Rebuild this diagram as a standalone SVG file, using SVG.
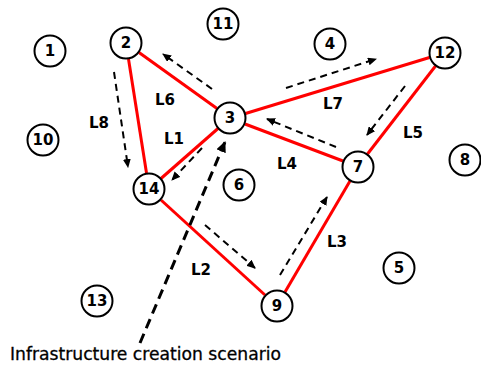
<svg xmlns="http://www.w3.org/2000/svg" width="481" height="372" viewBox="0 0 481 372">
  <defs>
    <marker id="arrow" markerUnits="userSpaceOnUse" markerWidth="9" markerHeight="8" refX="8" refY="4" orient="auto">
      <path d="M0,0 L9,4 L0,8 z" fill="#000"/>
    </marker>
    <marker id="arrowBig" markerUnits="userSpaceOnUse" markerWidth="11" markerHeight="10" refX="10" refY="5" orient="auto">
      <path d="M0,0 L11,5 L0,10 z" fill="#000"/>
    </marker>
  </defs>
  <style>
    .node circle { fill: #fff; stroke: #000; stroke-width: 2; }
    .node text { font-family: "DejaVu Sans", Verdana, sans-serif; font-weight: bold; font-size: 15px; text-anchor: middle; dominant-baseline: central; fill: #000; }
    .link { stroke: #ff0000; stroke-width: 3; fill: none; }
    .flow { stroke: #000; stroke-width: 2; stroke-dasharray: 7 5; fill: none; marker-end: url(#arrow); }
    .scenario { stroke: #000; stroke-width: 3; stroke-dasharray: 10 6; fill: none; marker-end: url(#arrowBig); }
    .lbl { font-family: "DejaVu Sans", Verdana, sans-serif; font-weight: bold; font-size: 15px; text-anchor: middle; dominant-baseline: central; fill: #000; }
    .caption { font-family: "DejaVu Sans", Verdana, sans-serif; font-size: 17px; fill: #000; stroke: #000; stroke-width: 0.3; }
  </style>
  <rect width="481" height="372" fill="#fff"/>

  <g id="connectors">
    <!-- physical links -->
    <line class="link" x1="128.5" y1="59" x2="146.5" y2="173"/>
    <line class="link" x1="139" y1="52.5" x2="217" y2="108.5"/>
    <line class="link" x1="218" y1="128.5" x2="161" y2="178.5"/>
    <line class="link" x1="245.5" y1="113.5" x2="429.5" y2="57.5"/>
    <line class="link" x1="245" y1="124" x2="343" y2="161"/>
    <line class="link" x1="435.5" y1="66" x2="367.5" y2="154"/>
    <line class="link" x1="161" y1="200" x2="265" y2="295"/>
    <line class="link" x1="285" y1="292" x2="350" y2="181"/>
    <!-- flow directions -->
    <line class="flow" x1="212" y1="89" x2="163" y2="54"/>
    <line class="flow" x1="114" y1="72" x2="128" y2="167"/>
    <line class="flow" x1="202" y1="148" x2="172" y2="180"/>
    <line class="flow" x1="286" y1="88" x2="376" y2="59"/>
    <line class="flow" x1="405" y1="86" x2="367" y2="135"/>
    <line class="flow" x1="336" y1="147" x2="267" y2="119"/>
    <line class="flow" x1="205" y1="225" x2="255" y2="268"/>
    <line class="flow" x1="280" y1="275" x2="327" y2="197"/>
    <!-- scenario pointer -->
    <line class="scenario" x1="140" y1="343" x2="225" y2="142"/>
  </g>

  <g id="link-labels">
    <text class="lbl" x="165" y="100">L6</text>
    <text class="lbl" x="99" y="123">L8</text>
    <text class="lbl" x="174" y="139">L1</text>
    <text class="lbl" x="333" y="104">L7</text>
    <text class="lbl" x="413" y="133">L5</text>
    <text class="lbl" x="287" y="164">L4</text>
    <text class="lbl" x="201" y="270">L2</text>
    <text class="lbl" x="337" y="242">L3</text>
  </g>

  <g id="node-1" class="node"><circle cx="50" cy="51" r="15.5"/><text x="50" y="51">1</text></g>
  <g id="node-2" class="node"><circle cx="126" cy="43" r="15.5"/><text x="126" y="43">2</text></g>
  <g id="node-3" class="node"><circle cx="230" cy="118" r="15.5"/><text x="230" y="118">3</text></g>
  <g id="node-4" class="node"><circle cx="330" cy="44" r="15.5"/><text x="330" y="44">4</text></g>
  <g id="node-5" class="node"><circle cx="399" cy="268" r="15.5"/><text x="399" y="268">5</text></g>
  <g id="node-6" class="node"><circle cx="239" cy="185" r="15.5"/><text x="239" y="185">6</text></g>
  <g id="node-7" class="node"><circle cx="358" cy="167" r="15.5"/><text x="358" y="167">7</text></g>
  <g id="node-8" class="node"><circle cx="465" cy="160" r="15.5"/><text x="465" y="160">8</text></g>
  <g id="node-9" class="node"><circle cx="277" cy="306" r="15.5"/><text x="277" y="306">9</text></g>
  <g id="node-10" class="node"><circle cx="43" cy="140" r="15.5"/><text x="43" y="140">10</text></g>
  <g id="node-11" class="node"><circle cx="223" cy="24" r="15.5"/><text x="223" y="24">11</text></g>
  <g id="node-12" class="node"><circle cx="445" cy="53" r="15.5"/><text x="445" y="53">12</text></g>
  <g id="node-13" class="node"><circle cx="97" cy="301" r="15.5"/><text x="97" y="301">13</text></g>
  <g id="node-14" class="node"><circle cx="149" cy="189" r="15.5"/><text x="149" y="189">14</text></g>

  <text class="caption" x="10" y="360" textLength="271" lengthAdjust="spacingAndGlyphs">Infrastructure creation scenario</text>
</svg>
